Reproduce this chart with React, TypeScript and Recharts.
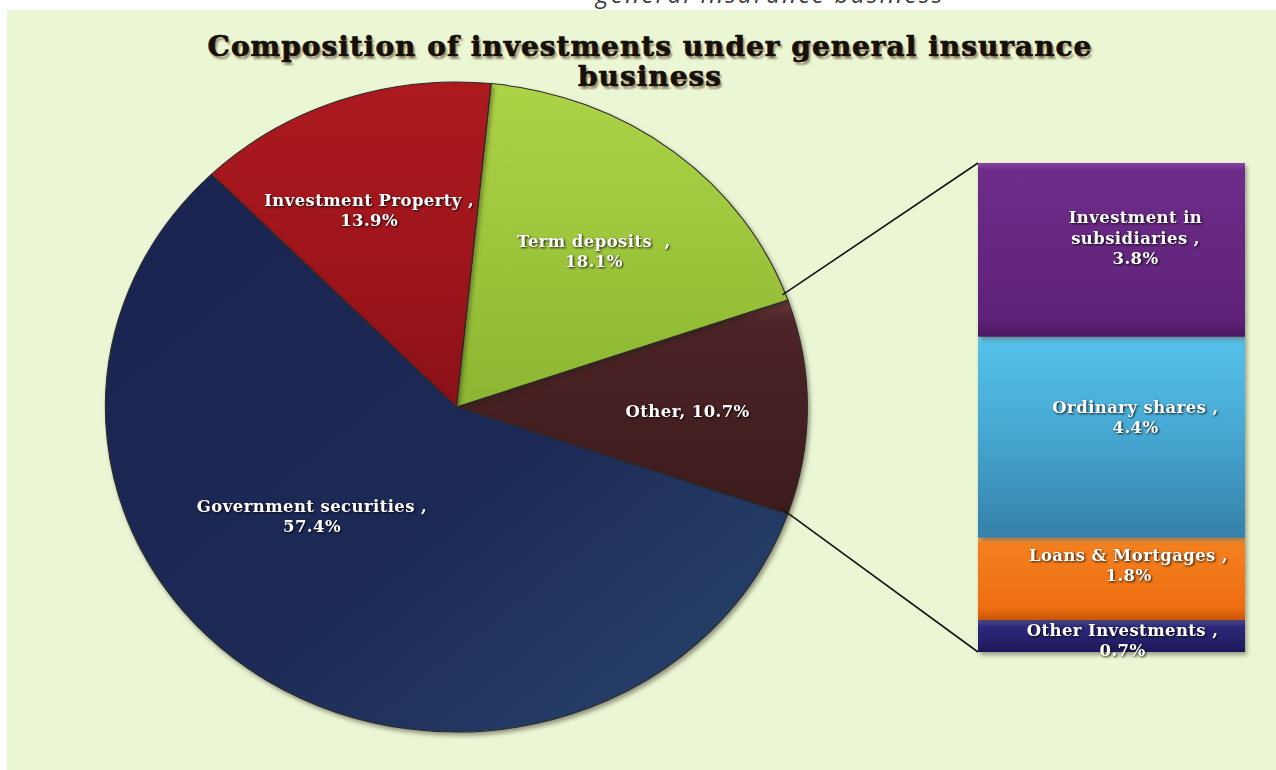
import { Bar, BarChart, Cell, Pie, PieChart, XAxis, YAxis } from "recharts";

// main pie: "Other" first so it sits on the right, split out into the bar
const pieNames = ["Other", "Term deposits  ", "Investment Property ", "Government securities "];
const pieShares = [10.7, 18.1, 13.9, 57.4];
const pieFills = ["url(#pie-other)", "url(#pie-term)", "url(#pie-prop)", "url(#pie-gov)"];

// breakdown of "Other", bottom of the stack first
const barNames = ["Other Investments ", "Loans & Mortgages ", "Ordinary shares ", "Investment in subsidiaries "];
const barShares = [0.7, 1.8, 4.4, 3.8];
const barFills = ["url(#bar-oth)", "url(#bar-loan)", "url(#bar-ord)", "url(#bar-sub)"];

const W = 1276;
const H = 770;
const CX = 451;
const CY = 402;
const RY = 325;
const STRETCH = 1.08; // the pie is drawn slightly wider than tall

// where the labels sit: [angle in degrees, fraction of radius]
const pieLabelSpots: Record<string, [number, number]> = {
  Other: [-1, 0.66],
  "Term deposits  ": [50.7, 0.62],
  "Investment Property ": [112.2, 0.655],
  "Government securities ": [219.3, 0.53],
};
const barLabelNudge = [
  [11, 4],
  [17, -14],
  [24, -20],
  [24, -12],
];

const pieData = pieNames.map((name, i) => ({ name, value: pieShares[i] }));
const pieTotal = pieShares.reduce((a, b) => a + b, 0);
const otherHalf = ((pieShares[0] / pieTotal) * 360) / 2;

const barRow: Record<string, number | string> = { group: "Other" };
barNames.forEach((_, i) => {
  barRow[`s${i}`] = barShares[i];
});
const barData = [barRow];

const labelFont = {
  fontFamily: "'DejaVu Serif', serif",
  fontWeight: 700,
  fontSize: 16.5,
  letterSpacing: 0.4,
  fill: "#ffffff",
  whiteSpace: "pre" as const,
  filter: "drop-shadow(1px 1px 1px rgba(0,0,0,0.85))",
};

function wrap(text: string, max: number) {
  const words = text.split(" ");
  const lines: string[] = [];
  let cur = "";
  words.forEach((w) => {
    const next = cur === "" ? w : `${cur} ${w}`;
    if (next.length > max && cur !== "") {
      lines.push(cur);
      cur = w;
    } else {
      cur = next;
    }
  });
  if (cur !== "") lines.push(cur);
  return lines;
}

function pieRim(angle: number) {
  const rad = (angle * Math.PI) / 180;
  return { x: CX + RY * STRETCH * Math.cos(rad), y: CY - RY * Math.sin(rad) };
}

function MultiLine({ x, y, lines, lh }: { x: number; y: number; lines: string[]; lh: number }) {
  const first = y - ((lines.length - 1) * lh) / 2 + 6;
  return (
    <text x={x} y={first} textAnchor="middle" style={labelFont}>
      {lines.map((l, i) => (
        <tspan key={i} x={x} dy={i === 0 ? 0 : lh}>
          {l}
        </tspan>
      ))}
    </text>
  );
}

function renderPieLabel(props: any) {
  const name = props.payload?.name ?? props.name;
  const value = props.payload?.value ?? props.value;
  const cx = props.cx ?? CX;
  const cy = props.cy ?? CY;
  const r = props.outerRadius ?? RY;
  const [ang, f] = pieLabelSpots[name] ?? [props.midAngle, 0.6];
  const rad = (ang * Math.PI) / 180;
  const x = cx + f * r * STRETCH * Math.cos(rad);
  const y = cy - f * r * Math.sin(rad);
  const pct = `${value.toFixed(1)}%`;
  const one = `${name}, ${pct}`;
  const lines = one.length <= 14 ? [one] : [`${name},`, pct];
  return <MultiLine x={x} y={y} lines={lines} lh={20} />;
}

function barLabel(i: number) {
  return (props: any) => {
    const vb = props.viewBox ?? {};
    const x = props.x ?? vb.x;
    const y = props.y ?? vb.y;
    const w = props.width ?? vb.width;
    const h = props.height ?? vb.height;
    const [dx, dy] = barLabelNudge[i];
    const lines = [...wrap(`${barNames[i]},`, 19), `${barShares[i].toFixed(1)}%`];
    const top = pieRim(otherHalf);
    const bottom = pieRim(-otherHalf);
    return (
      <g>
        {i === barNames.length - 1 && (
          <line x1={top.x} y1={top.y} x2={x} y2={y} stroke="#151515" strokeWidth={1.6} />
        )}
        {i === 0 && (
          <line x1={bottom.x} y1={bottom.y} x2={x} y2={y + h} stroke="#151515" strokeWidth={1.6} />
        )}
        <MultiLine x={x + w / 2 + dx} y={y + h / 2 + dy} lines={lines} lh={20.5} />
      </g>
    );
  };
}

function Grad({ id, stops, diag }: { id: string; stops: [number, string][]; diag?: boolean }) {
  return (
    <linearGradient id={id} x1="0" y1="0" x2={diag ? "1" : "0"} y2="1">
      {stops.map(([o, c]) => (
        <stop key={o} offset={o} stopColor={c} />
      ))}
    </linearGradient>
  );
}

export default function App() {
  return (
    <div style={{ position: "relative", width: W, height: H, background: "#ffffff", overflow: "hidden" }}>
      <style>{`
        body { margin: 0; }
        .pie-layer .recharts-sector {
          transform-origin: ${CX}px ${CY}px;
          transform: scaleX(${STRETCH});
          filter: drop-shadow(2px 3px 2px rgba(40,30,20,0.45));
        }
        .bar-layer .recharts-rectangle {
          filter: drop-shadow(2px 3px 2px rgba(40,30,20,0.4));
        }
      `}</style>

      <svg width={0} height={0} style={{ position: "absolute" }}>
        <defs>
          <Grad id="pie-gov" diag stops={[[0, "#1a2350"], [0.55, "#1d2a56"], [1, "#28466e"]]} />
          <Grad id="pie-prop" stops={[[0, "#ac1a1f"], [0.6, "#9d151b"], [1, "#8a1118"]]} />
          <Grad id="pie-term" stops={[[0, "#add347"], [0.5, "#9dc63c"], [1, "#8cb532"]]} />
          <Grad id="pie-other" stops={[[0, "#6a3a3e"], [0.1, "#4d2427"], [1, "#3d1b1d"]]} />
          <Grad id="bar-sub" stops={[[0, "#8a44a3"], [0.04, "#6e2c89"], [0.9, "#5e2278"], [1, "#4a1862"]]} />
          <Grad id="bar-ord" stops={[[0, "#7fd6f5"], [0.03, "#55c1ea"], [0.5, "#46a6d0"], [1, "#3580a8"]]} />
          <Grad id="bar-loan" stops={[[0, "#ffb060"], [0.08, "#f4801f"], [0.85, "#ee6e12"], [1, "#c95508"]]} />
          <Grad id="bar-oth" stops={[[0, "#5a56b0"], [0.2, "#2e2a7c"], [1, "#1d1858"]]} />
        </defs>
      </svg>

      <div style={{ position: "absolute", left: 7, top: 10, right: 0, bottom: 0, background: "#eaf6d4" }} />

      <svg width={W} height={10} style={{ position: "absolute", left: 0, top: 0 }}>
        <text
          x={596}
          y={3}
          textLength={346}
          fontSize={24}
          fontStyle="italic"
          fontFamily="'Open Sans', sans-serif"
          fill="#3a3a3a"
        >
          general insurance business
        </text>
      </svg>

      <div
        style={{
          position: "absolute",
          left: 150,
          top: 32,
          width: 1000,
          textAlign: "center",
          fontFamily: "'DejaVu Serif', serif",
          fontWeight: 700,
          fontSize: 28,
          letterSpacing: 1,
          lineHeight: "30px",
          color: "#15100a",
          WebkitTextStroke: "0.7px #15100a",
          textShadow: "2px 3px 2px rgba(90,50,20,0.55)",
        }}
      >
        Composition of investments under general insurance
        <br />
        business
      </div>

      <div className="pie-layer" style={{ position: "absolute", left: 0, top: 0 }}>
        <PieChart width={W} height={H}>
          <Pie
            data={pieData}
            dataKey="value"
            nameKey="name"
            cx={CX}
            cy={CY}
            outerRadius={RY}
            startAngle={-otherHalf}
            endAngle={360 - otherHalf}
            stroke="#2a2a2a"
            strokeWidth={1}
            label={renderPieLabel}
            labelLine={false}
            isAnimationActive={false}
          >
            {pieData.map((d, i) => (
              <Cell key={d.name} fill={pieFills[i]} />
            ))}
          </Pie>
        </PieChart>
      </div>

      <div className="bar-layer" style={{ position: "absolute", left: 0, top: 0 }}>
        <BarChart
          width={W}
          height={H}
          data={barData}
          margin={{ top: 163, right: 31, bottom: 118, left: 978 }}
          barCategoryGap={0}
        >
          <XAxis dataKey="group" hide />
          <YAxis hide domain={[0, "dataMax"]} />
          {barNames.map((n, i) => (
            <Bar
              key={n}
              dataKey={`s${i}`}
              stackId="other"
              fill={barFills[i]}
              label={barLabel(i)}
              isAnimationActive={false}
            />
          ))}
        </BarChart>
      </div>
    </div>
  );
}
